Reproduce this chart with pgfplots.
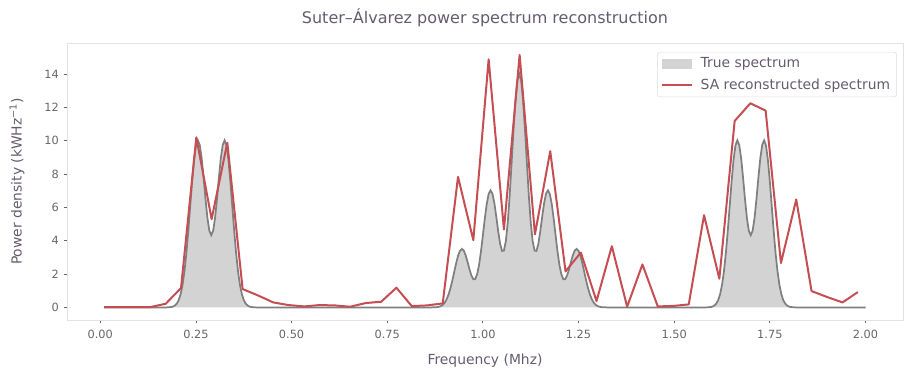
\documentclass[border=0pt]{standalone}
\usepackage{fontspec}
\setmainfont{DejaVu Sans}
\usepackage{pgfplots}
\pgfplotsset{compat=1.18}
\definecolor{textc}{HTML}{655B6E}
\definecolor{tickc}{HTML}{666666}
\definecolor{framec}{HTML}{E2E2E2}
\definecolor{legc}{HTML}{DDDDDD}
\definecolor{redc}{HTML}{C44E52}
\definecolor{grayline}{HTML}{7F7F7F}
\definecolor{grayfill}{HTML}{D3D3D3}
\begin{document}
\begin{tikzpicture}
\useasboundingbox (-50.25pt,-42pt) rectangle (632.25pt,240pt);
\begin{axis}[
  width=627pt, height=207.75pt, scale only axis,
  xmin=-0.087, xmax=2.098, ymin=-0.755, ymax=15.855,
  axis line style={draw=framec, line width=0.7pt},
  xtick={0,0.25,0.5,0.75,1,1.25,1.5,1.75,2},
  ytick={0,2,4,6,8,10,12,14},
  tick align=outside, tick pos=left,
  major tick length=2.6pt,
  tick style={draw=tickc, line width=0.6pt},
  /pgf/number format/assume math mode=true,
  ticklabel style={font=\fontsize{8.5}{10}\selectfont, text=tickc},
  xticklabel style={yshift=-1.5pt, /pgf/number format/.cd, fixed, fixed zerofill, precision=2},
  title={Suter–Álvarez power spectrum reconstruction},
  title style={at={(axis description cs:0.5,1)}, anchor=base, yshift=8.6pt, font=\fontsize{12}{14}\selectfont, text=textc},
  xlabel={Frequency (Mhz)},
  xlabel style={at={(axis description cs:0.5,0)}, anchor=base, yshift=-33.5pt, font=\fontsize{10.4}{12}\selectfont, text=textc},
  ylabel={Power density (kWHz\textsuperscript{−1})},
  ylabel style={at={(axis description cs:-0.0598,0.5)}, anchor=center, font=\fontsize{10.4}{12}\selectfont, text=textc},
  legend cell align=left,
  legend style={at={(axis description cs:0.9928,0.968)}, anchor=north east, draw=legc, fill=white, rounded corners=2pt, font=\fontsize{10.4}{12}\selectfont, text=textc, column sep=4pt, row sep=3pt},
]
\addplot[fill=grayfill, draw=none,
  legend image code/.code={\fill[grayfill, sharp corners] (0pt,-3.75pt) rectangle (22pt,3.75pt);}]
table {
x y
0.010 0
0.170 0
0.175 0.003
0.185 0.022
0.190 0.051
0.195 0.111
0.200 0.228
0.205 0.439
0.210 0.796
0.215 1.353
0.220 2.163
0.225 3.247
0.230 4.578
0.235 6.065
0.240 7.548
0.245 8.83
0.250 9.70
0.255 10.02
0.260 9.74
0.265 8.94
0.270 7.78
0.275 6.50
0.280 5.37
0.285 4.60
0.290 4.33
0.295 4.60
0.300 5.37
0.305 6.50
0.310 7.78
0.315 8.94
0.320 9.74
0.325 10.02
0.330 9.70
0.335 8.83
0.340 7.548
0.345 6.065
0.350 4.578
0.355 3.247
0.360 2.163
0.365 1.353
0.370 0.796
0.375 0.439
0.380 0.228
0.385 0.111
0.390 0.051
0.395 0.022
0.405 0.003
0.410 0
0.860 0
0.865 0.001
0.875 0.008
0.880 0.018
0.885 0.039
0.890 0.080
0.895 0.154
0.900 0.279
0.905 0.474
0.910 0.757
0.915 1.136
0.920 1.602
0.925 2.12
0.930 2.64
0.935 3.09
0.940 3.39
0.945 3.51
0.950 3.41
0.955 3.12
0.960 2.72
0.965 2.28
0.970 1.91
0.975 1.69
0.980 1.70
0.985 1.99
0.990 2.55
0.995 3.36
1.000 4.33
1.005 5.32
1.010 6.20
1.015 6.80
1.020 7.02
1.025 6.82
1.030 6.25
1.035 5.44
1.040 4.57
1.045 3.82
1.050 3.39
1.055 3.41
1.060 3.98
1.065 5.10
1.070 6.72
1.075 8.65
1.080 10.65
1.085 12.39
1.090 13.59
1.095 14.01
1.100 13.59
1.105 12.39
1.110 10.65
1.115 8.65
1.120 6.72
1.125 5.10
1.130 3.98
1.135 3.41
1.140 3.39
1.145 3.82
1.150 4.57
1.155 5.44
1.160 6.25
1.165 6.82
1.170 7.02
1.175 6.80
1.180 6.20
1.185 5.32
1.190 4.33
1.195 3.36
1.200 2.55
1.205 1.99
1.210 1.70
1.215 1.69
1.220 1.91
1.225 2.28
1.230 2.72
1.235 3.12
1.240 3.41
1.245 3.51
1.250 3.39
1.255 3.09
1.260 2.64
1.265 2.12
1.270 1.602
1.275 1.136
1.280 0.757
1.285 0.474
1.290 0.279
1.295 0.154
1.300 0.080
1.305 0.039
1.310 0.018
1.315 0.008
1.325 0.001
1.330 0
1.580 0
1.585 0.003
1.595 0.022
1.600 0.051
1.605 0.111
1.610 0.228
1.615 0.439
1.620 0.796
1.625 1.353
1.630 2.163
1.635 3.247
1.640 4.578
1.645 6.065
1.650 7.548
1.655 8.83
1.660 9.70
1.665 10.02
1.670 9.74
1.675 8.94
1.680 7.78
1.685 6.50
1.690 5.37
1.695 4.60
1.700 4.33
1.705 4.60
1.710 5.37
1.715 6.50
1.720 7.78
1.725 8.94
1.730 9.74
1.735 10.02
1.740 9.70
1.745 8.83
1.750 7.548
1.755 6.065
1.760 4.578
1.765 3.247
1.770 2.163
1.775 1.353
1.780 0.796
1.785 0.439
1.790 0.228
1.795 0.111
1.800 0.051
1.805 0.022
1.815 0.003
1.820 0
2.000 0
} \closedcycle;
\addlegendentry{True spectrum}
\addplot[draw=grayline, line width=1.3pt, forget plot]
table {
x y
0.010 0
0.170 0
0.175 0.003
0.185 0.022
0.190 0.051
0.195 0.111
0.200 0.228
0.205 0.439
0.210 0.796
0.215 1.353
0.220 2.163
0.225 3.247
0.230 4.578
0.235 6.065
0.240 7.548
0.245 8.83
0.250 9.70
0.255 10.02
0.260 9.74
0.265 8.94
0.270 7.78
0.275 6.50
0.280 5.37
0.285 4.60
0.290 4.33
0.295 4.60
0.300 5.37
0.305 6.50
0.310 7.78
0.315 8.94
0.320 9.74
0.325 10.02
0.330 9.70
0.335 8.83
0.340 7.548
0.345 6.065
0.350 4.578
0.355 3.247
0.360 2.163
0.365 1.353
0.370 0.796
0.375 0.439
0.380 0.228
0.385 0.111
0.390 0.051
0.395 0.022
0.405 0.003
0.410 0
0.860 0
0.865 0.001
0.875 0.008
0.880 0.018
0.885 0.039
0.890 0.080
0.895 0.154
0.900 0.279
0.905 0.474
0.910 0.757
0.915 1.136
0.920 1.602
0.925 2.12
0.930 2.64
0.935 3.09
0.940 3.39
0.945 3.51
0.950 3.41
0.955 3.12
0.960 2.72
0.965 2.28
0.970 1.91
0.975 1.69
0.980 1.70
0.985 1.99
0.990 2.55
0.995 3.36
1.000 4.33
1.005 5.32
1.010 6.20
1.015 6.80
1.020 7.02
1.025 6.82
1.030 6.25
1.035 5.44
1.040 4.57
1.045 3.82
1.050 3.39
1.055 3.41
1.060 3.98
1.065 5.10
1.070 6.72
1.075 8.65
1.080 10.65
1.085 12.39
1.090 13.59
1.095 14.01
1.100 13.59
1.105 12.39
1.110 10.65
1.115 8.65
1.120 6.72
1.125 5.10
1.130 3.98
1.135 3.41
1.140 3.39
1.145 3.82
1.150 4.57
1.155 5.44
1.160 6.25
1.165 6.82
1.170 7.02
1.175 6.80
1.180 6.20
1.185 5.32
1.190 4.33
1.195 3.36
1.200 2.55
1.205 1.99
1.210 1.70
1.215 1.69
1.220 1.91
1.225 2.28
1.230 2.72
1.235 3.12
1.240 3.41
1.245 3.51
1.250 3.39
1.255 3.09
1.260 2.64
1.265 2.12
1.270 1.602
1.275 1.136
1.280 0.757
1.285 0.474
1.290 0.279
1.295 0.154
1.300 0.080
1.305 0.039
1.310 0.018
1.315 0.008
1.325 0.001
1.330 0
1.580 0
1.585 0.003
1.595 0.022
1.600 0.051
1.605 0.111
1.610 0.228
1.615 0.439
1.620 0.796
1.625 1.353
1.630 2.163
1.635 3.247
1.640 4.578
1.645 6.065
1.650 7.548
1.655 8.83
1.660 9.70
1.665 10.02
1.670 9.74
1.675 8.94
1.680 7.78
1.685 6.50
1.690 5.37
1.695 4.60
1.700 4.33
1.705 4.60
1.710 5.37
1.715 6.50
1.720 7.78
1.725 8.94
1.730 9.74
1.735 10.02
1.740 9.70
1.745 8.83
1.750 7.548
1.755 6.065
1.760 4.578
1.765 3.247
1.770 2.163
1.775 1.353
1.780 0.796
1.785 0.439
1.790 0.228
1.795 0.111
1.800 0.051
1.805 0.022
1.815 0.003
1.820 0
2.000 0
};
\addplot[draw=redc, line width=1.5pt, line join=round,
  legend image code/.code={\draw[redc, line width=1.5pt, sharp corners] (0pt,0pt) -- (22pt,0pt);}]
table {
x y
0.010 0.02
0.050 0.01
0.090 0.01
0.131 0.02
0.171 0.22
0.211 1.16
0.251 10.20
0.291 5.29
0.332 9.88
0.372 1.10
0.412 0.72
0.452 0.30
0.492 0.14
0.533 0.06
0.573 0.14
0.613 0.12
0.653 0.04
0.693 0.26
0.734 0.34
0.774 1.18
0.814 0.08
0.854 0.12
0.895 0.24
0.935 7.83
0.975 4.03
1.015 14.88
1.055 4.67
1.096 15.14
1.136 4.38
1.176 9.37
1.216 2.16
1.256 3.29
1.297 0.38
1.337 3.67
1.377 0.04
1.417 2.58
1.457 0.06
1.498 0.09
1.538 0.18
1.578 5.53
1.618 1.72
1.658 11.18
1.699 12.24
1.739 11.80
1.779 2.66
1.819 6.47
1.859 0.98
1.900 0.62
1.940 0.30
1.980 0.92
};
\addlegendentry{SA reconstructed spectrum}
\end{axis}
\end{tikzpicture}
\end{document}
